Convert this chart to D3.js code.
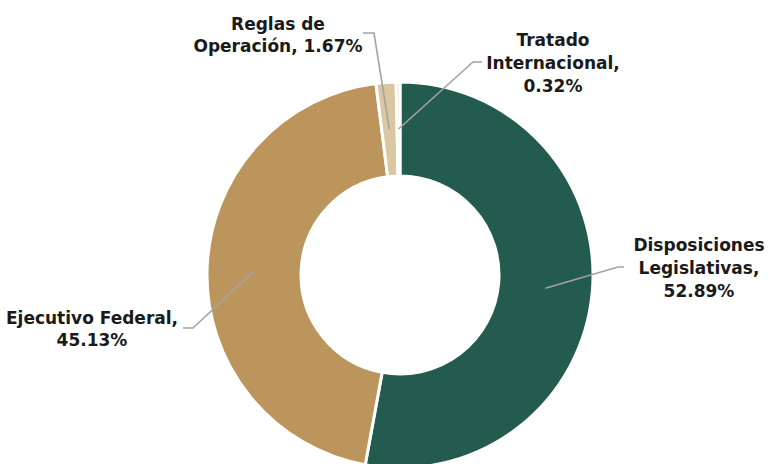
<!DOCTYPE html>
<html>
<head>
<meta charset="utf-8">
<script src="https://cdn.jsdelivr.net/npm/d3@7"></script>
<style>
  body { margin: 0; background: #fff; }
  svg { display: block; }
  .lbl { font-family: "DejaVu Sans", sans-serif; font-weight: 700; font-size: 17px; fill: #1a1a1a; }
  .leader { fill: none; stroke: #a3a3a3; stroke-width: 1.6; }
</style>
</head>
<body>
<div id="chart"></div>
<script>
// data
var categories = ["Disposiciones Legislativas", "Ejecutivo Federal", "Reglas de Operación", "Tratado Internacional"];
var shares = [52.89, 45.13, 1.67, 0.32];
var labelLines = [
  ["Disposiciones", "Legislativas,", "52.89%"],
  ["Ejecutivo Federal,", "45.13%"],
  ["Reglas de", "Operación, 1.67%"],
  ["Tratado", "Internacional,", "0.32%"]
];
var colors = ["#235b4e", "#bc955c", "#dac6a0", "#e8ddc8"];

// label layout: text anchor (centre x, first baseline) and elbow of leader line
var labelLayout = [
  {x: 699, y: 251, ex: 618, ey: 267, tx: 624},
  {x: 92, y: 324, ex: 193, ey: 328, tx: 183},
  {x: 278, y: 30, ex: 374, ey: 33, tx: 363},
  {x: 553, y: 46, ex: 473, ey: 62, tx: 482}
];

var width = 769, height = 464;
var cx = 400, cy = 275, outerR = 193, innerR = 99;

var svg = d3.select("#chart").append("svg")
  .attr("width", width)
  .attr("height", height);

var g = svg.append("g")
  .attr("transform", "translate(" + cx + "," + cy + ")");

var pie = d3.pie().sort(null).value(function (d) { return d; });
var arcs = pie(shares);

var arc = d3.arc().innerRadius(innerR).outerRadius(outerR);
var midArc = d3.arc().innerRadius(146).outerRadius(146);

g.selectAll("path.slice")
  .data(arcs)
  .enter().append("path")
  .attr("class", "slice")
  .attr("d", arc)
  .attr("fill", function (d, i) { return colors[i]; })
  .attr("stroke", "#fff")
  .attr("stroke-width", 3);

// leader lines
svg.selectAll("polyline.leader")
  .data(arcs)
  .enter().append("polyline")
  .attr("class", "leader")
  .attr("points", function (d, i) {
    var c = midArc.centroid(d);
    var L = labelLayout[i];
    return [[cx + c[0], cy + c[1]], [L.ex, L.ey], [L.tx, L.ey]].map(function (p) { return p.join(","); }).join(" ");
  });

// labels
labelLines.forEach(function (lines, i) {
  var L = labelLayout[i];
  var t = svg.append("text")
    .attr("class", "lbl")
    .attr("text-anchor", "middle")
    .attr("x", L.x)
    .attr("y", L.y);
  lines.forEach(function (s, k) {
    t.append("tspan")
      .attr("x", L.x)
      .attr("dy", k === 0 ? 0 : (i === 1 || i === 2 ? 22 : 23))
      .text(s);
  });
});
</script>
</body>
</html>
